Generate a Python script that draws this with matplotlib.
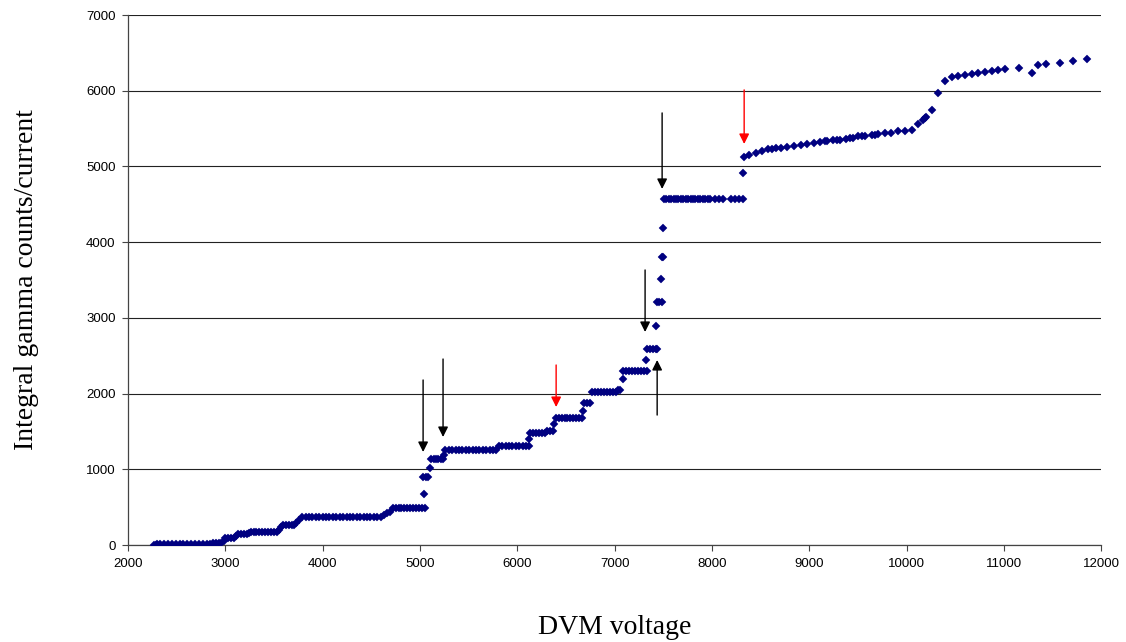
import matplotlib
matplotlib.use("Agg")
import matplotlib.pyplot as plt

# ---- data: (count level, list of DVM voltages at that level) ----
steps_low = [
    (0,   [2270]),
    (5,   [2285]),
    (10,  [2300]),
    (12,  [2330, 2370, 2410, 2450, 2490, 2530, 2570, 2610, 2650, 2690, 2730, 2770]),
    (15,  [2810]),
    (18,  [2840]),
    (22,  [2870]),
    (25,  [2900]),
    (28,  [2930]),
    (32,  [2960]),
    (60,  [2985]),
    (92,  [3000, 3030, 3060, 3090]),
    (120, [3110]),
    (145, [3130, 3160, 3190, 3220]),
    (165, [3240]),
    (176, [3260, 3290, 3320, 3350, 3380, 3410, 3440, 3470, 3500, 3530]),
    (200, [3550]),
    (238, [3570]),
    (264, [3590, 3620, 3650, 3680, 3710]),
    (290, [3730]),
    (330, [3760]),
    (374, [3790, 3825, 3860, 3895, 3930, 3965, 4000, 4035, 4070, 4105, 4140, 4175,
           4210, 4245, 4280, 4315, 4350, 4385, 4420, 4455, 4490, 4525, 4560, 4595]),
    (400, [4630]),
    (420, [4660]),
    (440, [4690]),
    (485, [4720, 4750, 4780, 4810, 4840, 4870, 4900, 4930, 4960, 4990, 5020, 5050]),
]

steps_mid = [
    (673,  [5045]),
    (898,  [5035, 5060, 5085]),
    (1017, [5105]),
    (1136, [5115, 5140, 5165, 5190, 5215, 5240]),
    (1189, [5248]),
    (1255, [5260, 5295, 5330, 5365, 5400, 5435, 5470, 5505, 5540, 5575, 5610, 5645,
            5680, 5715, 5750, 5785]),
    (1308, [5810, 5845, 5880, 5915, 5950, 5985, 6020, 6055, 6090, 6120]),
    (1400, [6125]),
    (1479, [6135, 6165, 6195, 6225, 6255, 6285]),
    (1506, [6310, 6340, 6370]),
    (1598, [6380]),
    (1678, [6395, 6425, 6455, 6485, 6515, 6545, 6575, 6605, 6635, 6665]),
    (1770, [6680]),
    (1876, [6690, 6720, 6750]),
    (2021, [6770, 6800, 6830, 6860, 6890, 6920, 6950, 6980, 7010]),
    (2048, [7035, 7055]),
    (2193, [7085]),
    (2299, [7090, 7120, 7150, 7180, 7210, 7240, 7270, 7300, 7330]),
    (2444, [7325]),
    (2589, [7330, 7360, 7390, 7420, 7440]),
    (2893, [7430]),
    (3210, [7440, 7460, 7485]),
    (3514, [7480]),
    (3804, [7485, 7495]),
    (4187, [7500]),
    (4567, [7505, 7530, 7555, 7580, 7605, 7630, 7655, 7680, 7705, 7730, 7755, 7780,
            7805, 7830, 7855, 7880, 7905, 7930, 7955, 7980,
            8030, 8075, 8115, 8195, 8240, 8280, 8320]),
    (4920, [8320]),
]

volt_high = [8330, 8385, 8455, 8515, 8580, 8620, 8660, 8710, 8775, 8845, 8915, 8980,
             9050, 9110, 9165, 9185, 9245, 9280, 9320, 9380, 9415, 9450, 9500, 9545,
             9575, 9645, 9675, 9710, 9780, 9840, 9915, 9985, 10055, 10120, 10170,
             10185, 10200, 10265, 10325, 10395, 10470, 10530, 10600, 10670, 10735,
             10810, 10880, 10940, 11015, 11155, 11290, 11350, 11435, 11580, 11715, 11855]
counts_high = [5125, 5152, 5178, 5205, 5231, 5236, 5240, 5244, 5257, 5270, 5284, 5297,
               5310, 5323, 5336, 5340, 5350, 5350, 5350, 5363, 5370, 5376, 5402, 5402,
               5402, 5415, 5420, 5429, 5442, 5442, 5468, 5468, 5482, 5561, 5614,
               5635, 5653, 5746, 5970, 6129, 6182, 6195, 6209, 6222, 6235,
               6248, 6262, 6275, 6288, 6301, 6235, 6341, 6354, 6367, 6394, 6420]

# arrows: (voltage, tail count, tip count)
arrows_black = [(5032, 2180, 1229), (5237, 2457, 1427), (7313, 3633, 2814),
                (7488, 5707, 4703), (7437, 1717, 2444)]
arrows_red = [(6399, 2378, 1823), (8331, 6011, 5297)]

x_ticks = [2000, 3000, 4000, 5000, 6000, 7000, 8000, 9000, 10000, 11000, 12000]
y_ticks = [0, 1000, 2000, 3000, 4000, 5000, 6000, 7000]

# ---- build series ----
volt, counts = [], []
for level, xs in steps_low + steps_mid:
    volt.extend(xs)
    counts.extend([level] * len(xs))
volt.extend(volt_high)
counts.extend(counts_high)

fig = plt.figure(figsize=(11.26, 6.42), dpi=100)
ax = fig.add_axes([0.1137, 0.151, 0.978 - 0.1137, 0.9766 - 0.151])

ax.set_xlim(2000, 12000)
ax.set_ylim(0, 7000)
ax.set_xticks(x_ticks)
ax.set_yticks(y_ticks)
ax.yaxis.grid(True, color="#222222", lw=0.8)
ax.set_axisbelow(True)

ax.plot(volt, counts, linestyle="none", marker="D", markersize=3.6,
        color="#000080", markeredgewidth=0.3, zorder=3)

arrow_style = "-|>,head_length=0.6,head_width=0.3"
for x, y0, y1 in arrows_black:
    ax.annotate("", xy=(x, y1), xytext=(x, y0),
                arrowprops=dict(arrowstyle=arrow_style, color="black", lw=1.0,
                                shrinkA=0, shrinkB=0, mutation_scale=10), zorder=4)
for x, y0, y1 in arrows_red:
    ax.annotate("", xy=(x, y1), xytext=(x, y0),
                arrowprops=dict(arrowstyle=arrow_style, color="#FF0000", lw=1.0,
                                shrinkA=0, shrinkB=0, mutation_scale=10), zorder=4)

for s in ["top", "right"]:
    ax.spines[s].set_visible(False)
for s in ["left", "bottom"]:
    ax.spines[s].set_color("#444444")
    ax.spines[s].set_linewidth(0.9)

ax.tick_params(direction="out", length=4, width=0.8, color="#444444",
               labelsize=9.5, pad=5)
for lab in ax.get_xticklabels() + ax.get_yticklabels():
    lab.set_family("Liberation Sans")

ax.set_xlabel("DVM voltage", family="Liberation Serif", fontsize=20, labelpad=33)
ax.set_ylabel("Integral gamma counts/current", family="Liberation Serif",
              fontsize=20, labelpad=34)

fig.savefig("out.png", dpi=100)
